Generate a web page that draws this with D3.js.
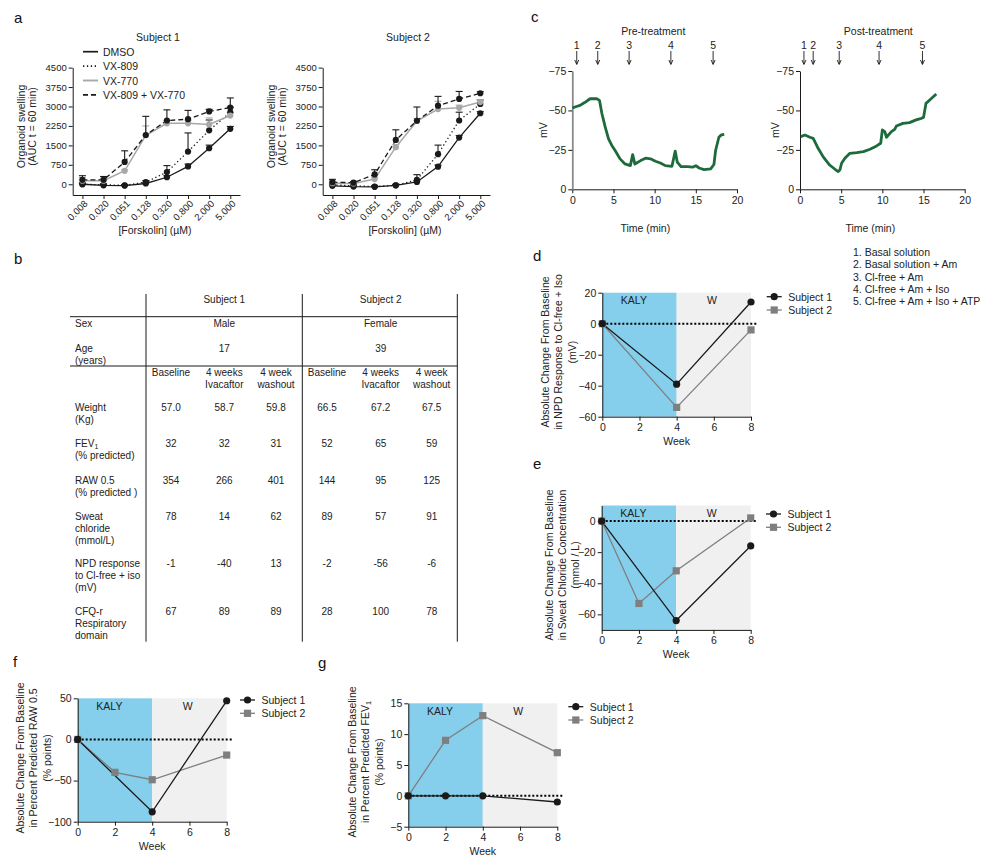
<!DOCTYPE html>
<html><head><meta charset="utf-8">
<script src="https://cdn.jsdelivr.net/npm/d3@7"></script>
<style>
body{margin:0;background:#fff;}
svg{display:block;font-family:"Liberation Sans",Arial,Helvetica,sans-serif;}
</style></head><body>
<svg id="fig" width="981" height="857"></svg>
<script>
// ---------- a: forskolin-induced swelling ----------
const forskolin = ["0.008","0.020","0.051","0.128","0.320","0.800","2.000","5.000"];
const swellTicks = [0, 750, 1500, 2250, 3000, 3750, 4500];
const treatments = ["DMSO", "VX-809", "VX-770", "VX-809 + VX-770"];

const s1Dmso   = [0, -40, -50, 30, 270, 690, 1390, 2140];
const s1DmsoSd = [40, 30, 20, 30, 60, 90, 120, 90];
const s1Vx809   = [0, -20, -40, 80, 470, 1260, 2080, 2770];
const s1Vx809Sd = [50, 40, 30, 60, 250, 720, 400, 200];
const s1Vx770   = [140, 140, 520, 1890, 2350, 2350, 2310, 2650];
const s1Vx770Sd = [120, 90, 40, 360, 100, 100, 250, 120];
const s1Combo   = [170, 170, 860, 1900, 2460, 2510, 2810, 2960];
const s1ComboSd = [160, 130, 430, 720, 410, 340, 80, 370];

const s2Dmso   = [-60, -90, -100, -40, 90, 680, 1800, 2740];
const s2DmsoSd = [40, 30, 30, 30, 40, 60, 80, 60];
const s2Vx809   = [-20, -60, -90, -40, 170, 1160, 2460, 3100];
const s2Vx809Sd = [60, 40, 30, 40, 200, 350, 320, 150];
const s2Vx770   = [40, 30, 200, 1430, 2440, 2900, 2950, 3170];
const s2Vx770Sd = [80, 60, 60, 100, 100, 300, 100, 80];
const s2Combo   = [80, 60, 380, 1710, 2450, 3030, 3290, 3510];
const s2ComboSd = [110, 40, 180, 390, 530, 360, 290, 60];

// ---------- c: nasal potential difference traces ----------
const preTime = [0, 0.5, 0.94, 1.5, 2.16, 2.6, 2.97, 3.3, 3.6, 4.0, 4.4, 4.8, 5.2, 5.8, 6.4, 7.05, 7.33, 7.6, 8.3, 8.9, 9.5, 10.1, 10.7, 11.3, 12.1, 12.5, 12.75, 13.2, 14.0, 14.6, 15.0, 15.4, 16.0, 16.8, 17.2, 17.4, 17.8, 18.1, 18.45];
const preMv = [-51.5, -52.5, -53.2, -55, -57.4, -57.5, -57.4, -56.4, -47.9, -39.4, -32, -27.8, -24.6, -19.3, -16.1, -15, -22, -16, -18.2, -19.7, -19.3, -17.8, -16.7, -15, -14.6, -24.2, -17.2, -14.4, -14.4, -14, -15, -13.5, -12.5, -12.9, -15.7, -24.6, -33, -34.5, -34.8];
const postTime = [0.1, 0.6, 1.2, 1.6, 1.8, 2.2, 2.8, 3.6, 4.25, 4.65, 4.85, 5.05, 5.45, 6.06, 6.9, 7.7, 8.5, 9.3, 9.8, 10.0, 10.3, 10.5, 11.1, 11.5, 11.7, 12.5, 13.3, 14.1, 14.75, 15.0, 15.3, 15.75, 16.55];
const postMv = [-33.4, -34.4, -33, -32.3, -30.2, -26, -20.7, -15.4, -12.7, -11.2, -12.3, -16.5, -19.7, -22.8, -23.2, -23.9, -25.4, -27.5, -29.2, -37.6, -36.6, -33, -36.6, -38, -40.1, -41.8, -42.3, -44, -45, -45.6, -54.5, -56.6, -60.4];
const preEvents = [0.54, 3.09, 6.9, 11.97, 17.1];
const postEvents = [0.48, 1.6, 4.76, 9.6, 14.87];
const mvTicks = [0, -25, -50, -75];
const timeTicks = [0, 5, 10, 15, 20];
const solutions = ["1. Basal solution", "2. Basal solution + Am", "3. Cl-free + Am", "4. Cl-free + Am + Iso", "5. Cl-free + Am + Iso + ATP"];

// ---------- b: clinical table ----------
const subjects = ["Subject 1", "Subject 2"];
const sexes = ["Male", "Female"];
const ages = ["17", "39"];
const visitHeads = [["Baseline"], ["4 weeks", "Ivacaftor"], ["4 week", "washout"]];
const rowLabels = [["Weight", "(Kg)"], ["FEV|1", "(% predicted)"], ["RAW 0.5", "(% predicted )"],
  ["Sweat", "chloride", "(mmol/L)"], ["NPD response", "to Cl-free + iso", "(mV)"], ["CFQ-r", "Respiratory", "domain"]];
const weightVals = ["57.0", "58.7", "59.8", "66.5", "67.2", "67.5"];
const fevVals = ["32", "32", "31", "52", "65", "59"];
const rawVals = ["354", "266", "401", "144", "95", "125"];
const sweatVals = ["78", "14", "62", "89", "57", "91"];
const npdVals = ["-1", "-40", "13", "-2", "-56", "-6"];
const cfqVals = ["67", "89", "89", "28", "100", "78"];

// ---------- d-g: change from baseline ----------
const weekTicks = [0, 2, 4, 6, 8];
const npdWeekS1 = [0, 4, 8], npdS1 = [0, -39, 14];
const npdWeekS2 = [0, 4, 8], npdS2 = [0, -54, -4];
const sweatWeekS1 = [0, 4, 8], sweatS1 = [0, -64, -16];
const sweatWeekS2 = [0, 2, 4, 8], sweatS2 = [0, -53, -32, 2];
const rawWeekS1 = [0, 4, 8], rawS1 = [0, -88, 47];
const rawWeekS2 = [0, 2, 4, 8], rawS2 = [0, -40, -49, -19];
const fevWeekS1 = [0, 2, 4, 8], fevS1 = [0, 0, 0, -1];
const fevWeekS2 = [0, 2, 4, 8], fevS2 = [0, 9, 13, 7];

// ================= drawing =================
const svg = d3.select("#fig");
const INK = "#1a1a1a", TXT = "#222";
const GREY2 = "#7f7f7f", LIGHT = "#a8a8a8";
const KALY_BLUE = "#86cfec", WASH_GREY = "#f0f0f0", TRACE = "#1d6b3b";
const intFmt = d3.format("d");

function styleAxis(sel, fs) {
  sel.selectAll("path,line").attr("stroke", INK).attr("stroke-width", 1);
  sel.selectAll("text").attr("fill", TXT).attr("font-size", fs).attr("font-family", null);
}
function letter(t, x, y) {
  svg.append("text").attr("x", x).attr("y", y).attr("font-size", 15)
    .attr("dominant-baseline", "central").attr("fill", "#111").text(t);
}
function vText(g, lines, xs, cy, fs) {
  lines.forEach((ln, i) => {
    const t = g.append("text").attr("transform", `translate(${xs[i]},${cy}) rotate(-90)`)
      .attr("text-anchor", "middle").attr("dominant-baseline", "central")
      .attr("font-size", fs).attr("fill", TXT);
    addSub(t, ln, fs);
  });
}
// "FEV|1" -> FEV with subscript 1
function addSub(t, str, fs) {
  const parts = str.split("|");
  t.append("tspan").text(parts[0]);
  if (parts.length > 1) {
    t.append("tspan").attr("font-size", fs * 0.7).attr("dy", fs * 0.3).text(parts[1]);
  }
}

// ---- a ----
letter("a", 14, 17);
function swellingPanel(dx, title, rows, withLegend) {
  const g = svg.append("g").attr("transform", `translate(${dx},0)`);
  const x = d3.scalePoint().domain(forskolin).range([72.7, 240]).padding(0.46);
  const y = d3.scaleLinear().domain([-414, 4500]).range([195, 67.6]);

  g.append("text").attr("x", 158).attr("y", 37).attr("text-anchor", "middle")
    .attr("dominant-baseline", "central").attr("font-size", 10.5).attr("fill", TXT).text(title);

  const ya = g.append("g").attr("transform", "translate(72.7,0)")
    .call(d3.axisLeft(y).tickValues(swellTicks).tickFormat(intFmt).tickSize(4).tickSizeOuter(0).tickPadding(2));
  styleAxis(ya, 9.5);
  const xa = g.append("g").attr("transform", "translate(0,195)")
    .call(d3.axisBottom(x).tickSize(4).tickSizeOuter(0));
  styleAxis(xa, 9.5);
  xa.selectAll("text").attr("x", 0).attr("y", 0).attr("dy", "0.35em")
    .attr("text-anchor", "end").attr("transform", "translate(3,7) rotate(-45)");

  vText(g, ["Organoid swelling", "(AUC t = 60 min)"], [20.7, 32.2], 126.5, 10.5);
  g.append("text").attr("x", 155).attr("y", 230).attr("text-anchor", "middle")
    .attr("dominant-baseline", "central").attr("font-size", 10.5).attr("fill", TXT).text("[Forskolin] (\u00b5M)");

  const line = d3.line().x((d, i) => x(forskolin[i])).y(d => y(d));
  rows.forEach(r => {
    r.vals.forEach((v, i) => {
      const cx = x(forskolin[i]), y0 = y(v), y1 = y(v + r.sd[i]);
      g.append("line").attr("x1", cx).attr("x2", cx).attr("y1", y0).attr("y2", y1)
        .attr("stroke", r.color).attr("stroke-width", 1.1);
      g.append("line").attr("x1", cx - 3.5).attr("x2", cx + 3.5).attr("y1", y1).attr("y2", y1)
        .attr("stroke", r.color).attr("stroke-width", 1.1);
    });
  });
  rows.forEach(r => {
    g.append("path").attr("d", line(r.vals)).attr("fill", "none").attr("stroke", r.color)
      .attr("stroke-width", r.width).attr("stroke-dasharray", r.dash);
  });
  rows.forEach(r => {
    g.selectAll(null).data(r.vals).enter().append("circle")
      .attr("cx", (d, i) => x(forskolin[i])).attr("cy", d => y(d)).attr("r", 3.1).attr("fill", r.color);
  });

  if (withLegend) {
    rows.forEach((r, i) => {
      const ly = 51.7 + i * 14.4;
      g.append("line").attr("x1", 83).attr("x2", 98).attr("y1", ly).attr("y2", ly)
        .attr("stroke", r.color).attr("stroke-width", r.width + 0.4).attr("stroke-dasharray", r.dash);
      g.append("text").attr("x", 103).attr("y", ly).attr("dominant-baseline", "central")
        .attr("font-size", 10.5).attr("fill", TXT).text(treatments[i]);
    });
  }
}
const styles = [
  {color: INK, dash: null, width: 1.3},
  {color: INK, dash: "1.3,2.6", width: 1.3},
  {color: LIGHT, dash: null, width: 1.5},
  {color: INK, dash: "5,3", width: 1.3}
];
swellingPanel(0, subjects[0], [
  Object.assign({vals: s1Dmso, sd: s1DmsoSd}, styles[0]),
  Object.assign({vals: s1Vx809, sd: s1Vx809Sd}, styles[1]),
  Object.assign({vals: s1Vx770, sd: s1Vx770Sd}, styles[2]),
  Object.assign({vals: s1Combo, sd: s1ComboSd}, styles[3])
], true);
swellingPanel(250, subjects[1], [
  Object.assign({vals: s2Dmso, sd: s2DmsoSd}, styles[0]),
  Object.assign({vals: s2Vx809, sd: s2Vx809Sd}, styles[1]),
  Object.assign({vals: s2Vx770, sd: s2Vx770Sd}, styles[2]),
  Object.assign({vals: s2Combo, sd: s2ComboSd}, styles[3])
], false);

// ---- c ----
letter("c", 531, 16);
function npdPanel(x0, title, times, mvs, events, yAxisColor, titleX, mvX) {
  const g = svg.append("g");
  const x = d3.scaleLinear().domain([0, 20]).range([x0, x0 + 164.7]);
  const y = d3.scaleLinear().domain([0, -75]).range([189.3, 71]);
  g.append("text").attr("x", titleX).attr("y", 31).attr("text-anchor", "middle")
    .attr("dominant-baseline", "central").attr("font-size", 10.5).attr("fill", TXT).text(title);
  events.forEach((t, i) => {
    const ex = x(t);
    g.append("text").attr("x", ex).attr("y", 45).attr("text-anchor", "middle")
      .attr("dominant-baseline", "central").attr("font-size", 10.5).attr("fill", TXT).text(i + 1);
    g.append("line").attr("x1", ex).attr("x2", ex).attr("y1", 51).attr("y2", 64)
      .attr("stroke", INK).attr("stroke-width", 0.9);
    g.append("path").attr("d", `M${ex - 2},${60} L${ex},${64.5} L${ex + 2},${60}`)
      .attr("fill", "none").attr("stroke", INK).attr("stroke-width", 0.9);
  });
  const xa = g.append("g").attr("transform", `translate(0,${y(0)})`)
    .call(d3.axisBottom(x).tickValues(timeTicks).tickSize(4).tickSizeOuter(0));
  styleAxis(xa, 10.5);
  const ya = g.append("g").attr("transform", `translate(${x0},0)`)
    .call(d3.axisLeft(y).tickValues(mvTicks).tickSize(4).tickSizeOuter(0).tickPadding(2));
  styleAxis(ya, 10.5);
  ya.select("path.domain").attr("stroke", yAxisColor).attr("stroke-width", yAxisColor === INK ? 1 : 1.8);
  g.append("text").attr("x", titleX - 8).attr("y", 228).attr("text-anchor", "middle")
    .attr("dominant-baseline", "central").attr("font-size", 10.5).attr("fill", TXT).text("Time (min)");
  vText(g, ["mV"], [mvX], 130, 10.5);
  const line = d3.line().x((d, i) => x(times[i])).y(d => y(d));
  g.append("path").attr("d", line(mvs)).attr("fill", "none").attr("stroke", TRACE)
    .attr("stroke-width", 2.8).attr("stroke-linejoin", "round");
}
npdPanel(572.3, "Pre-treatment", preTime, preMv, preEvents, "#8a8a8a", 653.3, 542.7);
npdPanel(800, "Post-treatment", postTime, postMv, postEvents, INK, 878.3, 775);

solutions.forEach((s, i) => {
  svg.append("text").attr("x", 853).attr("y", 251.7 + i * 12.4).attr("dominant-baseline", "central")
    .attr("font-size", 10.5).attr("fill", TXT).text(s);
});

// ---- b ----
letter("b", 14, 258);
(function table() {
  const g = svg.append("g");
  const fs = 10;
  const colX = [171, 224.3, 276, 327, 380.7, 431.7];
  const subX = [224.3, 380.7];
  [146, 302.3, 457.3].forEach(vx => g.append("line").attr("x1", vx).attr("x2", vx)
    .attr("y1", 294).attr("y2", 641.7).attr("stroke", INK).attr("stroke-width", 1));
  [316.7, 366].forEach(hy => g.append("line").attr("x1", 70).attr("x2", 457.3)
    .attr("y1", hy).attr("y2", hy).attr("stroke", INK).attr("stroke-width", 1));
  const txt = (x, y, s, anchor) => {
    const t = g.append("text").attr("x", x).attr("y", y).attr("text-anchor", anchor || "middle")
      .attr("dominant-baseline", "central").attr("font-size", fs).attr("fill", TXT);
    addSub(t, s, fs);
  };
  subjects.forEach((s, i) => txt(subX[i], 299.3, s));
  txt(75, 323.3, "Sex", "start");
  sexes.forEach((s, i) => txt(subX[i], 323.3, s));
  txt(75, 348.3, "Age", "start"); txt(75, 360, "(years)", "start");
  ages.forEach((s, i) => txt(subX[i], 348.3, s));
  colX.forEach((cx, i) => visitHeads[i % 3].forEach((h, j) => txt(cx, 372.3 + j * 12, h)));
  const rowY = [407.3, 443.3, 480, 516, 563.3, 611];
  const rowVals = [weightVals, fevVals, rawVals, sweatVals, npdVals, cfqVals];
  rowLabels.forEach((lab, r) => {
    lab.forEach((l, j) => txt(75, rowY[r] + j * 11.8, l, "start"));
    rowVals[r].forEach((v, c) => txt(colX[c], rowY[r], v));
  });
})();

// ---- d-g ----
function weekPanel(o) {
  const g = svg.append("g");
  const x = d3.scaleLinear().domain([0, 8]).range([o.x0, o.x1]);
  const y = d3.scaleLinear().domain(o.yDomain).range([o.yBottom, o.yTop]);
  g.append("rect").attr("x", x(0)).attr("y", o.yTop).attr("width", x(4) - x(0))
    .attr("height", o.yBottom - o.yTop).attr("fill", KALY_BLUE);
  g.append("rect").attr("x", x(4)).attr("y", o.yTop).attr("width", x(8) - x(4))
    .attr("height", o.yBottom - o.yTop).attr("fill", WASH_GREY);
  g.append("text").attr("x", x(1.7)).attr("y", o.yTop + 7.5).attr("text-anchor", "middle")
    .attr("dominant-baseline", "central").attr("font-size", 10.5).attr("fill", TXT).text("KALY");
  g.append("text").attr("x", x(5.9)).attr("y", o.yTop + 7.5).attr("text-anchor", "middle")
    .attr("dominant-baseline", "central").attr("font-size", 10.5).attr("fill", TXT).text("W");
  g.append("line").attr("x1", x(0)).attr("x2", x(8) + 5.5).attr("y1", y(0)).attr("y2", y(0))
    .attr("stroke", "#000").attr("stroke-width", 2).attr("stroke-dasharray", "2,2");

  const xa = g.append("g").attr("transform", `translate(0,${o.yBottom})`)
    .call(d3.axisBottom(x).tickValues(weekTicks).tickSize(4).tickSizeOuter(0));
  styleAxis(xa, 10.5);
  const ya = g.append("g").attr("transform", `translate(${o.x0},0)`)
    .call(d3.axisLeft(y).tickValues(o.yTicks).tickSize(4).tickSizeOuter(0).tickPadding(2));
  styleAxis(ya, 10.5);
  g.append("text").attr("x", x(4)).attr("y", o.yBottom + 24.5).attr("text-anchor", "middle")
    .attr("dominant-baseline", "central").attr("font-size", 10.5).attr("fill", TXT).text("Week");
  vText(g, o.title, o.titleX, o.titleY, 10.5);

  const line = d3.line().x(d => x(d[0])).y(d => y(d[1]));
  const s2 = o.w2.map((w, i) => [w, o.v2[i]]);
  const s1 = o.w1.map((w, i) => [w, o.v1[i]]);
  g.append("path").attr("d", line(s2)).attr("fill", "none").attr("stroke", GREY2).attr("stroke-width", 1.3);
  g.append("path").attr("d", line(s1)).attr("fill", "none").attr("stroke", INK).attr("stroke-width", 1.3);
  g.selectAll(null).data(s2).enter().append("rect")
    .attr("x", d => x(d[0]) - 3.6).attr("y", d => y(d[1]) - 3.6).attr("width", 7.2).attr("height", 7.2).attr("fill", GREY2);
  g.selectAll(null).data(s1).enter().append("circle")
    .attr("cx", d => x(d[0])).attr("cy", d => y(d[1])).attr("r", 3.6).attr("fill", INK);

  // legend
  const ly = [o.legY, o.legY + 13.3];
  const lx0 = o.legX, lx1 = o.legX + 15, lc = o.legX + 7.5;
  g.append("line").attr("x1", lx0).attr("x2", lx1).attr("y1", ly[0]).attr("y2", ly[0]).attr("stroke", INK).attr("stroke-width", 1.3);
  g.append("circle").attr("cx", lc).attr("cy", ly[0]).attr("r", 3.6).attr("fill", INK);
  g.append("line").attr("x1", lx0).attr("x2", lx1).attr("y1", ly[1]).attr("y2", ly[1]).attr("stroke", GREY2).attr("stroke-width", 1.3);
  g.append("rect").attr("x", lc - 3.6).attr("y", ly[1] - 3.6).attr("width", 7.2).attr("height", 7.2).attr("fill", GREY2);
  subjects.forEach((s, i) => g.append("text").attr("x", lx1 + 6.5).attr("y", ly[i])
    .attr("dominant-baseline", "central").attr("font-size", 10.5).attr("fill", TXT).text(s));
}

letter("d", 533, 255);
weekPanel({x0: 602.3, x1: 751, yDomain: [-60, 20], yBottom: 416.7, yTop: 292.7, yTicks: [-60, -40, -20, 0, 20],
  w1: npdWeekS1, v1: npdS1, w2: npdWeekS2, v2: npdS2,
  title: ["Absolute Change From Baseline", "in NPD Response to Cl-free + Iso", "(mV)"],
  titleX: [545, 558.3, 571.7], titleY: 352, legX: 766.7, legY: 296.7});

letter("e", 533, 463);
weekPanel({x0: 601.7, x1: 750.7, yDomain: [-70, 10], yBottom: 629.9, yTop: 505.5, yTicks: [-60, -40, -20, 0],
  w1: sweatWeekS1, v1: sweatS1, w2: sweatWeekS2, v2: sweatS2,
  title: ["Absolute Change From Baseline", "in Sweat Chloride Concentration", "(mmol / L)"],
  titleX: [549.3, 562, 575], titleY: 565, legX: 766, legY: 514});

letter("f", 13, 661);
weekPanel({x0: 77.7, x1: 226.7, yDomain: [-100, 50], yBottom: 821.7, yTop: 698.3, yTicks: [-100, -50, 0, 50],
  w1: rawWeekS1, v1: rawS1, w2: rawWeekS2, v2: rawS2,
  title: ["Absolute Change From Baseline", "in Percent Predicted RAW 0.5", "(% points)"],
  titleX: [20, 33.3, 46.7], titleY: 758, legX: 240, legY: 700});

letter("g", 318, 662);
weekPanel({x0: 408.3, x1: 557.3, yDomain: [-5, 15], yBottom: 826.7, yTop: 703.3, yTicks: [-5, 0, 5, 10, 15],
  w1: fevWeekS1, v1: fevS1, w2: fevWeekS2, v2: fevS2,
  title: ["Absolute Change From Baseline", "in Percent Predicted FEV|1", "(% points)"],
  titleX: [351.7, 365, 378.6], titleY: 762, legX: 568.3, legY: 706.7});
</script>
</body></html>
